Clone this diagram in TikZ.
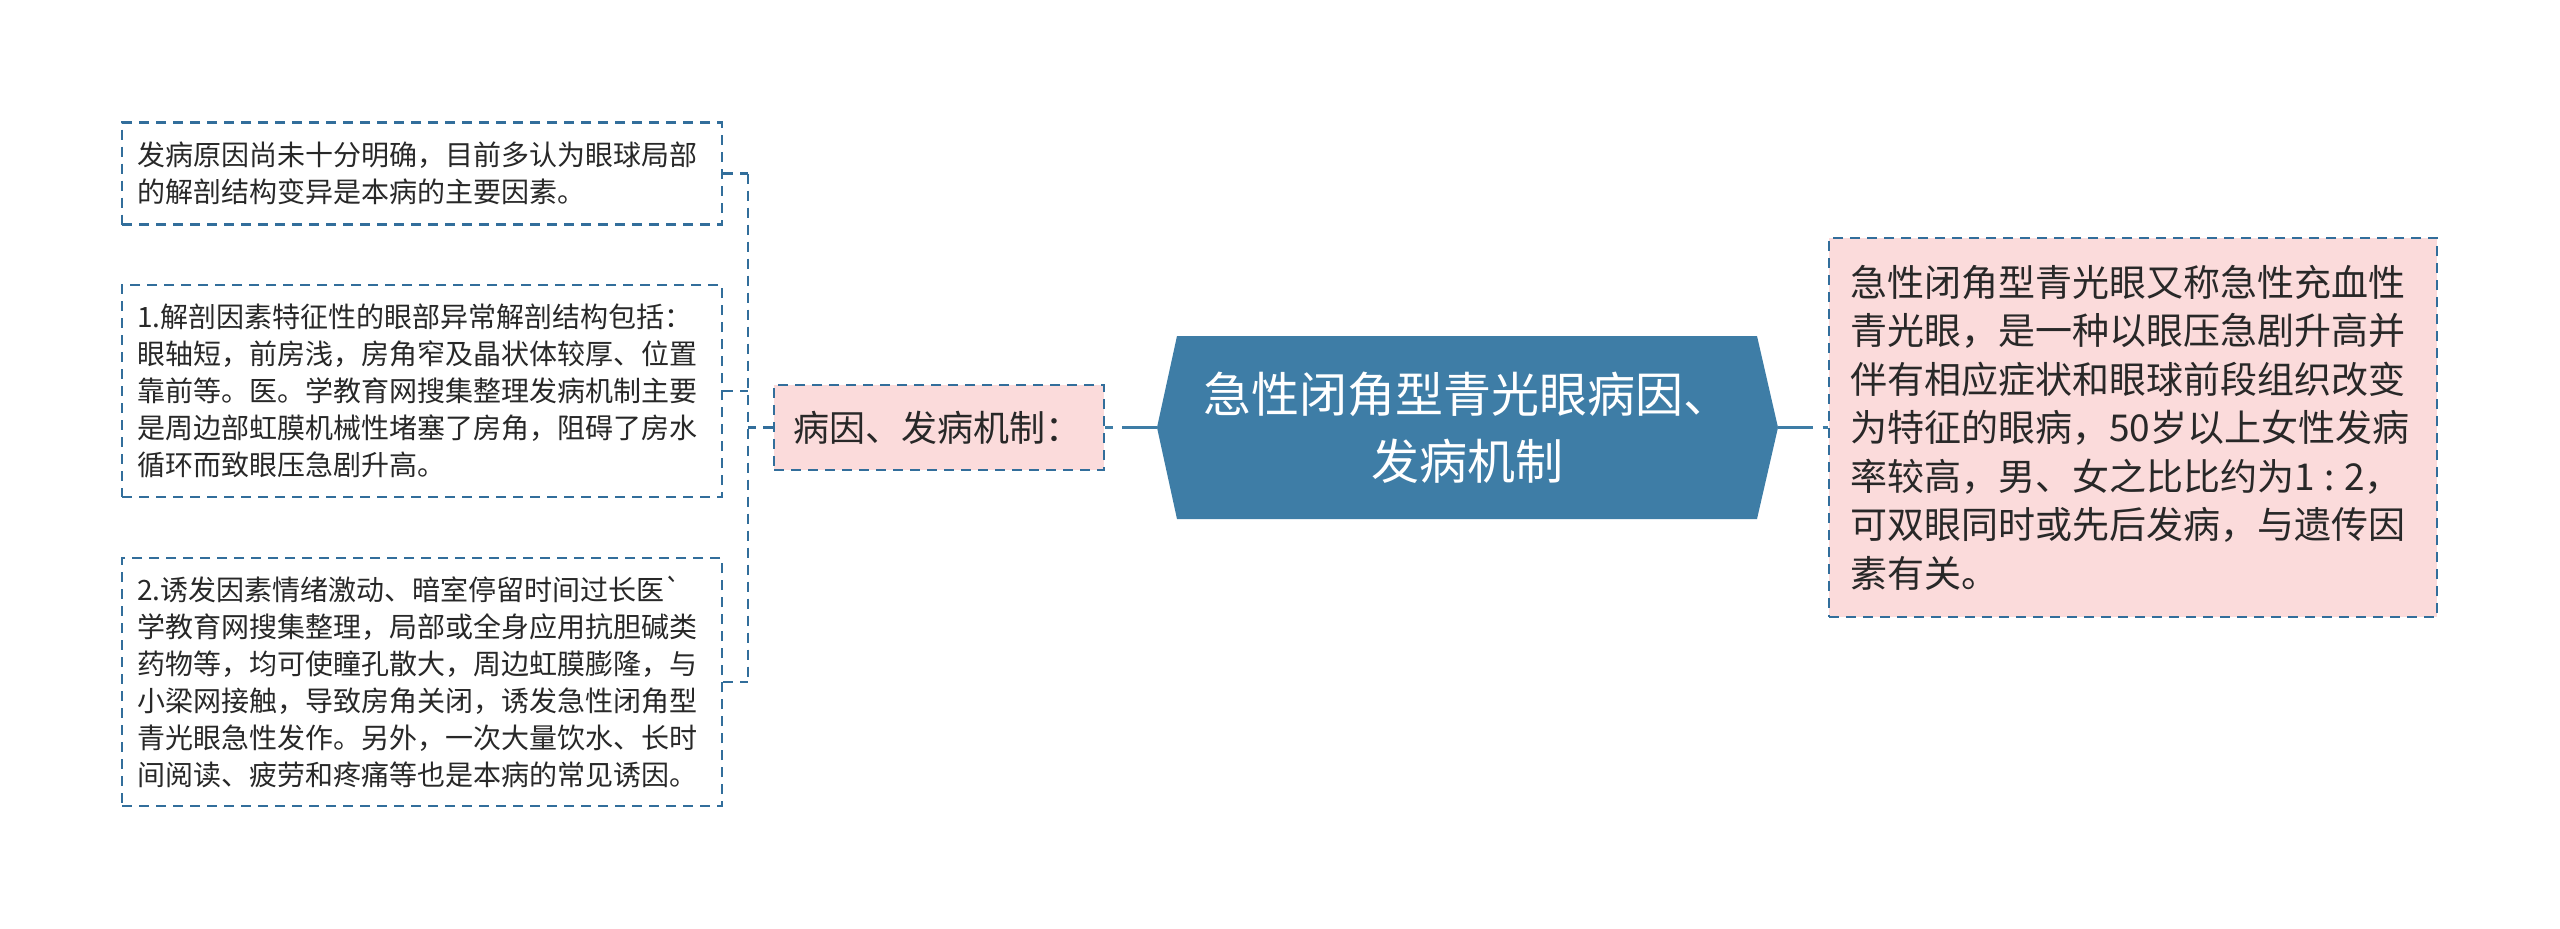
\documentclass[tikz,border=0pt]{standalone}
\usepackage{fontspec}
\newfontfamily\cjk{Noto Sans CJK SC}
\definecolor{mainblue}{RGB}{62,125,166}
\definecolor{dashblue}{RGB}{50,110,155}
\definecolor{pinkfill}{RGB}{251,219,219}
\definecolor{txt}{RGB}{40,40,40}
\begin{document}
\begin{tikzpicture}[x=1pt,y=-1pt,
  leafbox/.style={draw=dashblue, line width=2.5pt, dash pattern=on 10pt off 7pt,
    rectangle, align=left, text=txt, font=\cjk\fontsize{28}{37}\selectfont,
    inner xsep=15pt, inner ysep=0pt, text width=570pt},
  midbox/.style={draw=dashblue, fill=pinkfill, line width=2.5pt, dash pattern=on 10pt off 7pt,
    rectangle, align=left, text=txt, font=\cjk\fontsize{36}{44}\selectfont,
    inner xsep=19pt, inner ysep=0pt, text width=292pt, minimum height=85pt},
  rightbox/.style={draw=dashblue, fill=pinkfill, line width=2.5pt, dash pattern=on 10pt off 7pt,
    rectangle, align=left, text=txt, font=\cjk\fontsize{37}{48.5}\selectfont,
    inner xsep=21pt, inner ysep=0pt, text width=566pt, minimum height=379pt},
  centertext/.style={text=white, align=center, font=\cjk\fontsize{48}{67}\selectfont, inner sep=0pt},
  treeline/.style={draw=dashblue, line width=2.5pt, dash pattern=on 10pt off 7pt},
  mainline/.style={draw=mainblue, line width=3pt, dash pattern=on 35pt off 9.5pt}
]
\fill[white] (0,0) rectangle (2560,929);
\useasboundingbox (0,0) rectangle (2560,929);

% left leaves
\node[leafbox, minimum height=102pt] (b1) at (422,173.5)
  {发病原因尚未十分明确，目前多认为眼球局部\\的解剖结构变异是本病的主要因素。};
\node[leafbox, minimum height=212pt] (b2) at (422,391)
  {1.解剖因素特征性的眼部异常解剖结构包括：\\眼轴短，前房浅，房角窄及晶状体较厚、位置\\靠前等。医。学教育网搜集整理发病机制主要\\是周边部虹膜机械性堵塞了房角，阻碍了房水\\循环而致眼压急剧升高。};
\node[leafbox, minimum height=248pt] (b3) at (422,682)
  {2.诱发因素情绪激动、暗室停留时间过长医`\\学教育网搜集整理，局部或全身应用抗胆碱类\\药物等，均可使瞳孔散大，周边虹膜膨隆，与\\小梁网接触，导致房角关闭，诱发急性闭角型\\青光眼急性发作。另外，一次大量饮水、长时\\间阅读、疲劳和疼痛等也是本病的常见诱因。};

% middle node
\node[midbox] (mid) at (939,427.5) {病因、发病机制：};

% central hexagon
\coordinate (hexW) at (1157,427.5);
\coordinate (hexE) at (1778,427.5);
\fill[mainblue] (hexW) -- (1177,336) -- (1757,336) -- (hexE) -- (1757,519) -- (1177,519) -- cycle;
\node[centertext] (hex) at (1467.5,428) {急性闭角型青光眼病因、\\发病机制};

% right node
\node[rightbox] (rbox) at (2133,427.5)
  {急性闭角型青光眼又称急性充血性\\青光眼，是一种以眼压急剧升高并\\伴有相应症状和眼球前段组织改变\\为特征的眼病，50岁以上女性发病\\率较高，男、女之比比约为1\makebox[0.8em][c]{:}2，\\可双眼同时或先后发病，与遗传因\\素有关。};

% main connectors
\draw[mainline] (hexW) -- (mid.east);
\draw[mainline] (hexE) -- (rbox.west);

% tree connectors
\coordinate (j) at (748,427.5);
\draw[treeline] (mid.west) -- (j);
\draw[treeline] (j |- b1.east) -- (j |- b3.east);
\draw[treeline] (b1.east) -- (j |- b1.east);
\draw[treeline] (b2.east) -- (j |- b2.east);
\draw[treeline] (b3.east) -- (j |- b3.east);
\end{tikzpicture}
\end{document}
